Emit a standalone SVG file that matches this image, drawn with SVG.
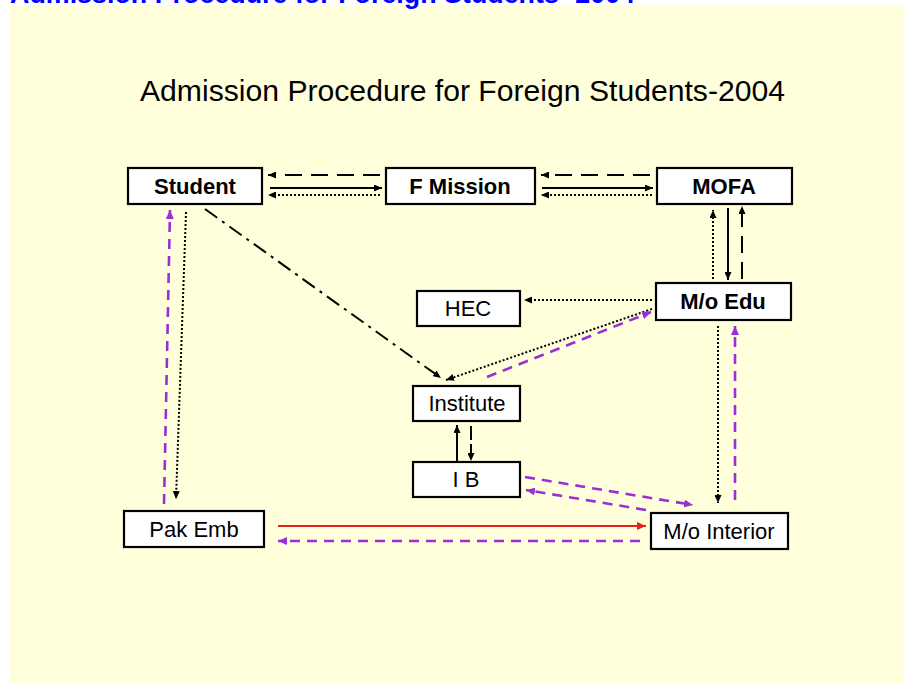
<svg xmlns="http://www.w3.org/2000/svg" width="904" height="683" viewBox="0 0 904 683">
<style>
.box{fill:#fff;stroke:#000;stroke-width:2.2}
.b{font-family:"Liberation Sans",Arial,sans-serif;font-size:22px;font-weight:bold;text-anchor:middle;fill:#000}
.r{font-family:"Liberation Sans",Arial,sans-serif;font-size:22px;text-anchor:middle;fill:#000}
.ln{fill:none;stroke:#000;stroke-width:2}
.solid{marker-end:url(#ak)}
.dash{stroke-dasharray:17 9;marker-end:url(#ak)}
.dot{stroke-dasharray:2 2;marker-end:url(#ak)}
.dd{stroke-dasharray:15 6 3 6;marker-end:url(#ak)}
.ldash{stroke-dasharray:14 4;marker-end:url(#ak)}
.pur{fill:none;stroke:#9B2FD6;stroke-width:2.6;stroke-dasharray:10 7;marker-end:url(#ap)}
.red{fill:none;stroke:#E3241B;stroke-width:2.2;marker-end:url(#ar)}
</style>
<defs>
<marker id="ak" markerUnits="userSpaceOnUse" markerWidth="8" markerHeight="7" refX="8" refY="3.5" orient="auto"><path d="M0,0 L8,3.5 L0,7 z" fill="#000"/></marker>
<marker id="ap" markerUnits="userSpaceOnUse" markerWidth="9" markerHeight="8" refX="9" refY="4" orient="auto"><path d="M0,0 L9,4 L0,8 z" fill="#9B2FD6"/></marker>
<marker id="ar" markerUnits="userSpaceOnUse" markerWidth="9" markerHeight="8" refX="9" refY="4" orient="auto"><path d="M0,0 L9,4 L0,8 z" fill="#E3241B"/></marker>
</defs>
<rect x="0" y="0" width="904" height="683" fill="#fff"/>
<rect x="10" y="5" width="894" height="678" fill="#FFFFDC"/>
<text x="10" y="3" font-family="'Liberation Sans',Arial,sans-serif" font-size="27" font-weight="bold" fill="#0000FF" textLength="625" lengthAdjust="spacingAndGlyphs">Admission Procedure for Foreign Students- 2004</text>
<text x="140" y="101" font-family="'Liberation Sans',Arial,sans-serif" font-size="29" fill="#000" textLength="645" lengthAdjust="spacingAndGlyphs">Admission Procedure for Foreign Students-2004</text>

<g id="connectors">
<line class="ln dash" x1="380" y1="175" x2="268" y2="175"/>
<line class="ln solid" x1="270" y1="188" x2="382" y2="188"/>
<line class="ln dot" x1="380" y1="195" x2="268" y2="195"/>
<line class="ln dash" x1="650" y1="175" x2="541" y2="175"/>
<line class="ln solid" x1="542" y1="188" x2="653" y2="188"/>
<line class="ln dot" x1="652" y1="195" x2="541" y2="195"/>
<line class="ln dot" x1="713" y1="279" x2="713" y2="210"/>
<line class="ln solid" x1="728" y1="208" x2="728" y2="280"/>
<line class="ln dash" x1="742" y1="279" x2="742" y2="206"/>
<line class="ln dot" x1="652" y1="300" x2="524" y2="300"/>
<line class="ln dot" x1="652" y1="309" x2="446" y2="380"/>
<line class="pur" x1="487" y1="377" x2="651" y2="312"/>
<line class="ln dd" x1="205" y1="209" x2="441" y2="378"/>
<line class="ln dot" x1="186" y1="212" x2="176" y2="499"/>
<line class="pur" x1="164" y1="504" x2="170" y2="210"/>
<line class="ln solid" x1="457" y1="461" x2="457" y2="425"/>
<line class="ln ldash" x1="471" y1="426" x2="471" y2="461"/>
<line class="pur" x1="525" y1="477" x2="693" y2="505"/>
<line class="pur" x1="646" y1="510" x2="526" y2="490"/>
<line class="ln dot" x1="718" y1="326" x2="718" y2="503"/>
<line class="pur" x1="735" y1="500" x2="735" y2="326"/>
<line class="red" x1="278" y1="526" x2="646" y2="526"/>
<line class="pur" x1="640" y1="541" x2="278" y2="541"/>
</g>

<g id="student"><rect class="box" x="128" y="168" width="134" height="36"/><text class="b" x="195" y="194">Student</text></g>
<g id="fmission"><rect class="box" x="386" y="168" width="149" height="36"/><text class="b" x="460" y="194">F Mission</text></g>
<g id="mofa"><rect class="box" x="657" y="168" width="135" height="36"/><text class="b" x="724" y="194">MOFA</text></g>
<g id="moedu"><rect class="box" x="656" y="283" width="135" height="37"/><text class="b" x="723" y="309">M/o Edu</text></g>
<g id="hec"><rect class="box" x="417" y="291" width="103" height="35"/><text class="r" x="468" y="316">HEC</text></g>
<g id="institute"><rect class="box" x="413" y="386" width="107" height="35"/><text class="r" x="467" y="411">Institute</text></g>
<g id="ib"><rect class="box" x="413" y="462" width="107" height="35"/><text class="r" x="466" y="487">I B</text></g>
<g id="pakemb"><rect class="box" x="124" y="511" width="140" height="36"/><text class="r" x="194" y="537">Pak Emb</text></g>
<g id="mointerior"><rect class="box" x="651" y="513" width="137" height="36"/><text class="r" x="719" y="539">M/o Interior</text></g>
</svg>
